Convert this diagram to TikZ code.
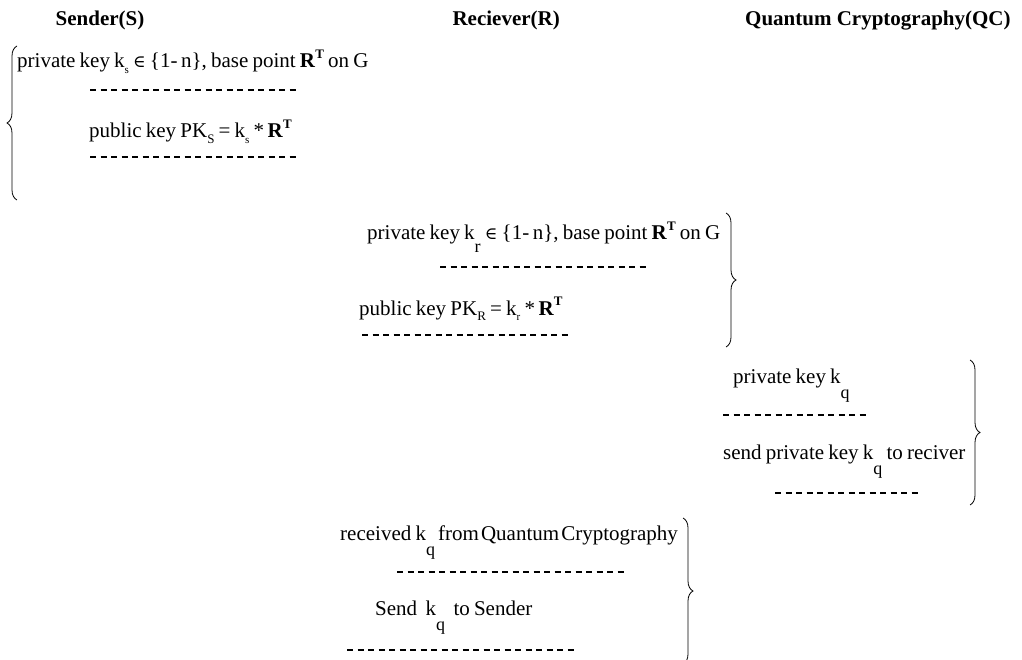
\documentclass[tikz,border=0pt]{standalone}
\usepackage{fontspec}
\setmainfont{Liberation Serif}
\newfontfamily\symfont{DejaVu Serif}
\usetikzlibrary{decorations.pathreplacing}

\newcommand{\ksub}[1]{k\raisebox{-0.25em}{\fontsize{11}{11}\selectfont #1}}
\newcommand{\kdown}[1]{k\raisebox{-0.75em}{\fontsize{18}{18}\selectfont #1}}
\newcommand{\Ksub}[1]{K\raisebox{-0.25em}{\fontsize{13}{13}\selectfont #1}}
\newcommand{\RT}{\textbf{R}\raisebox{0.45em}{\fontsize{13}{13}\selectfont\textbf{T}}}
\newcommand{\elem}{{\symfont\fontsize{17}{17}\selectfont ∈}}
\newcommand{\tightsp}{\spaceskip=0.2em plus 0.05em\relax}

\tikzset{
hdr/.style={font=\fontsize{21}{25}\selectfont\bfseries, inner sep=0pt},
txt/.style={font=\fontsize{21}{25}\selectfont\tightsp, inner sep=0pt, anchor=base west},
dashrow/.style={line width=1.3pt, dash pattern=on 6pt off 4.5pt},
bracebar/.style={line width=0.8pt, decorate, decoration={brace, amplitude=10pt}},
}

\begin{document}
\begin{tikzpicture}[%
x=1pt, y=-1pt,
]
\useasboundingbox (0,0) rectangle (1022,660);
%% headings;
\node[hdr, anchor=base] (hs) at (100,26) {Sender(S)};
\node[hdr, anchor=base east] (hr) at (560,26) {Reciever(R)};
\node[hdr, anchor=base west] (hq) at (745,26) {Quantum Cryptography(QC)};
%% sender;
\node[txt] (s1) at (17,68) {private key \ksub{s} \elem\ \{1-\,n\}, base point \RT\ on G};
\node[txt] (s2) at (89,138) {public key P\Ksub{S} = \ksub{s} *\,\RT};
\coordinate (sd1l) at (90,90);
\coordinate (sd1r) at (297,90);
\coordinate (sd2l) at (90,157);
\coordinate (sd2r) at (297,157);
\draw[dashrow] (sd1l) -- (sd1r);
\draw[dashrow] (sd2l) -- (sd2r);
\coordinate (sbb) at (17,200);
\coordinate (sbt) at (17,46);
\draw[bracebar] (sbb) -- (sbt);
%% receiver;
\node[txt] (r1) at (367,240) {private key k\raisebox{-0.6em}{\fontsize{18}{18}\selectfont r} \elem\ \{1-\,n\}, base point \RT\ on G};
\node[txt] (r2) at (359,315) {public key P\Ksub{R} = \ksub{r} *\,\RT};
\coordinate (rd1l) at (440,267);
\coordinate (rd1r) at (647,267);
\coordinate (rd2l) at (362,335);
\coordinate (rd2r) at (570,335);
\draw[dashrow] (rd1l) -- (rd1r);
\draw[dashrow] (rd2l) -- (rd2r);
\coordinate (rbt) at (726,213);
\coordinate (rbb) at (726,347);
\draw[bracebar] (rbt) -- (rbb);
%% quantum cryptography;
\node[txt] (q1) at (733,383) {private key \kdown{q}};
\node[txt] (q2) at (723,459) {send private key \kdown{q}\ to reciver};
\coordinate (qd1l) at (723,415);
\coordinate (qd1r) at (868,415);
\coordinate (qd2l) at (775,493);
\coordinate (qd2r) at (918,493);
\draw[dashrow] (qd1l) -- (qd1r);
\draw[dashrow] (qd2l) -- (qd2r);
\coordinate (qbt) at (970,360);
\coordinate (qbb) at (970,505);
\draw[bracebar] (qbt) -- (qbb);
%% receiver again;
\node[txt] (r3) at (340,540) {received \kdown{q}\hspace{0.15em}from\hspace{0.1em}Quantum\hspace{0.1em}Cryptography};
\node[txt] (r4) at (375,615) {Send\ \ \kdown{q}\ \ to Sender};
\coordinate (rd3l) at (397,572);
\coordinate (rd3r) at (627,572);
\coordinate (rd4l) at (347,650);
\coordinate (rd4r) at (575,650);
\draw[dashrow] (rd3l) -- (rd3r);
\draw[dashrow] (rd4l) -- (rd4r);
\coordinate (lbt) at (683,518);
\coordinate (lbb) at (683,664);
\draw[bracebar] (lbt) -- (lbb);
\end{tikzpicture}
\end{document}
